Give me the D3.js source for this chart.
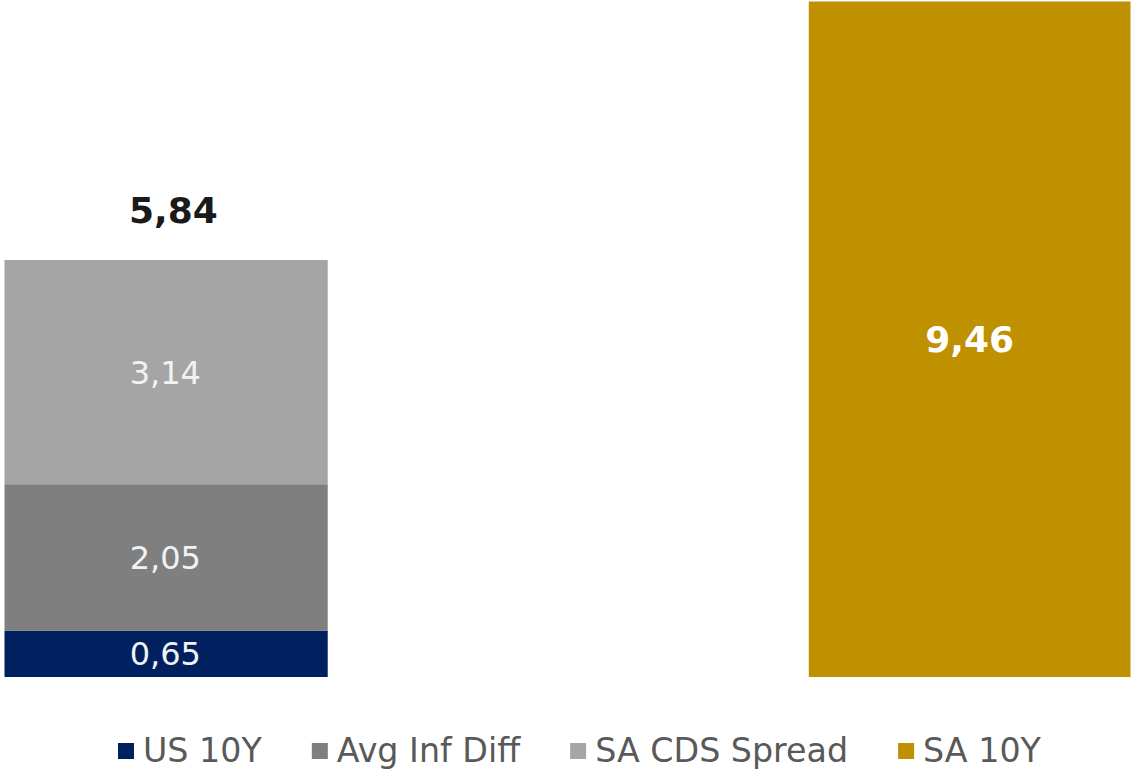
<!DOCTYPE html>
<html><head><meta charset="utf-8">
<script src="https://cdn.jsdelivr.net/npm/d3@7"></script>
<style>body{margin:0;background:#fff}svg{display:block}text{font-family:"DejaVu Sans",sans-serif}</style>
</head><body>
<svg id="c" width="1132" height="770"></svg>
<script>
const categories = ["Breakdown", "SA 10Y"];
const seriesNames = ["US 10Y", "Avg Inf Diff", "SA CDS Spread", "SA 10Y"];
const seriesColors = ["#002060", "#7f7f7f", "#a5a5a5", "#bf9000"];
const breakdownValues = [0.65, 2.05, 3.14];
const sa10yValue = [9.46];
const totalLabel = 5.84;

const fmt = v => v.toFixed(2).replace(".", ",");
const svg = d3.select("#c");
const x = d3.scaleBand().domain(categories).range([4.5, 1130.5]).paddingInner(0.6).paddingOuter(0);
const y = d3.scaleLinear().domain([0, 9.46]).range([677, 1.5]);

// stacked breakdown
let cum = 0;
const stack = breakdownValues.map((v, i) => { const d = {v, y0: cum, y1: cum + v, i}; cum += v; return d; });
const g = svg.append("g");
g.selectAll("rect.s").data(stack).join("rect")
  .attr("x", x("Breakdown")).attr("width", x.bandwidth() + 1.5)
  .attr("y", d => y(d.y1)).attr("height", d => y(d.y0) - y(d.y1))
  .attr("fill", d => seriesColors[d.i]);
g.selectAll("text.s").data(stack).join("text")
  .attr("x", x("Breakdown") + x.bandwidth() / 2)
  .attr("y", d => (y(d.y0) + y(d.y1)) / 2)
  .attr("dy", "0.36em").attr("text-anchor", "middle")
  .attr("font-size", 32).attr("fill", "#f2f2f2")
  .text(d => fmt(d.v));
g.append("text")
  .attr("x", x("Breakdown") + x.bandwidth() / 2 + 8)
  .attr("y", y(cum) - 37)
  .attr("text-anchor", "middle").attr("font-size", 36).attr("font-weight", "bold")
  .attr("fill", "#1a1a1a").text(fmt(totalLabel));

// SA 10Y
g.selectAll("rect.sa").data(sa10yValue).join("rect")
  .attr("x", x("SA 10Y")).attr("width", x.bandwidth())
  .attr("y", d => y(d)).attr("height", d => y(0) - y(d))
  .attr("fill", seriesColors[3]);
g.selectAll("text.sa").data(sa10yValue).join("text")
  .attr("x", x("SA 10Y") + x.bandwidth() / 2)
  .attr("y", d => (y(0) + y(d)) / 2)
  .attr("dy", "0.36em").attr("text-anchor", "middle")
  .attr("font-size", 36).attr("font-weight", "bold").attr("fill", "#ffffff")
  .text(d => fmt(d));

// legend
const leg = svg.append("g");
let lx = 118;
seriesNames.forEach((n, i) => {
  leg.append("rect").attr("x", lx).attr("y", 743).attr("width", 16).attr("height", 16).attr("fill", seriesColors[i]);
  const t = leg.append("text").attr("x", lx + 25).attr("y", 762)
    .attr("font-size", 33.3).attr("fill", "#595959").text(n);
  lx += 25 + t.node().getComputedTextLength() + 50;
});
</script>
</body></html>
